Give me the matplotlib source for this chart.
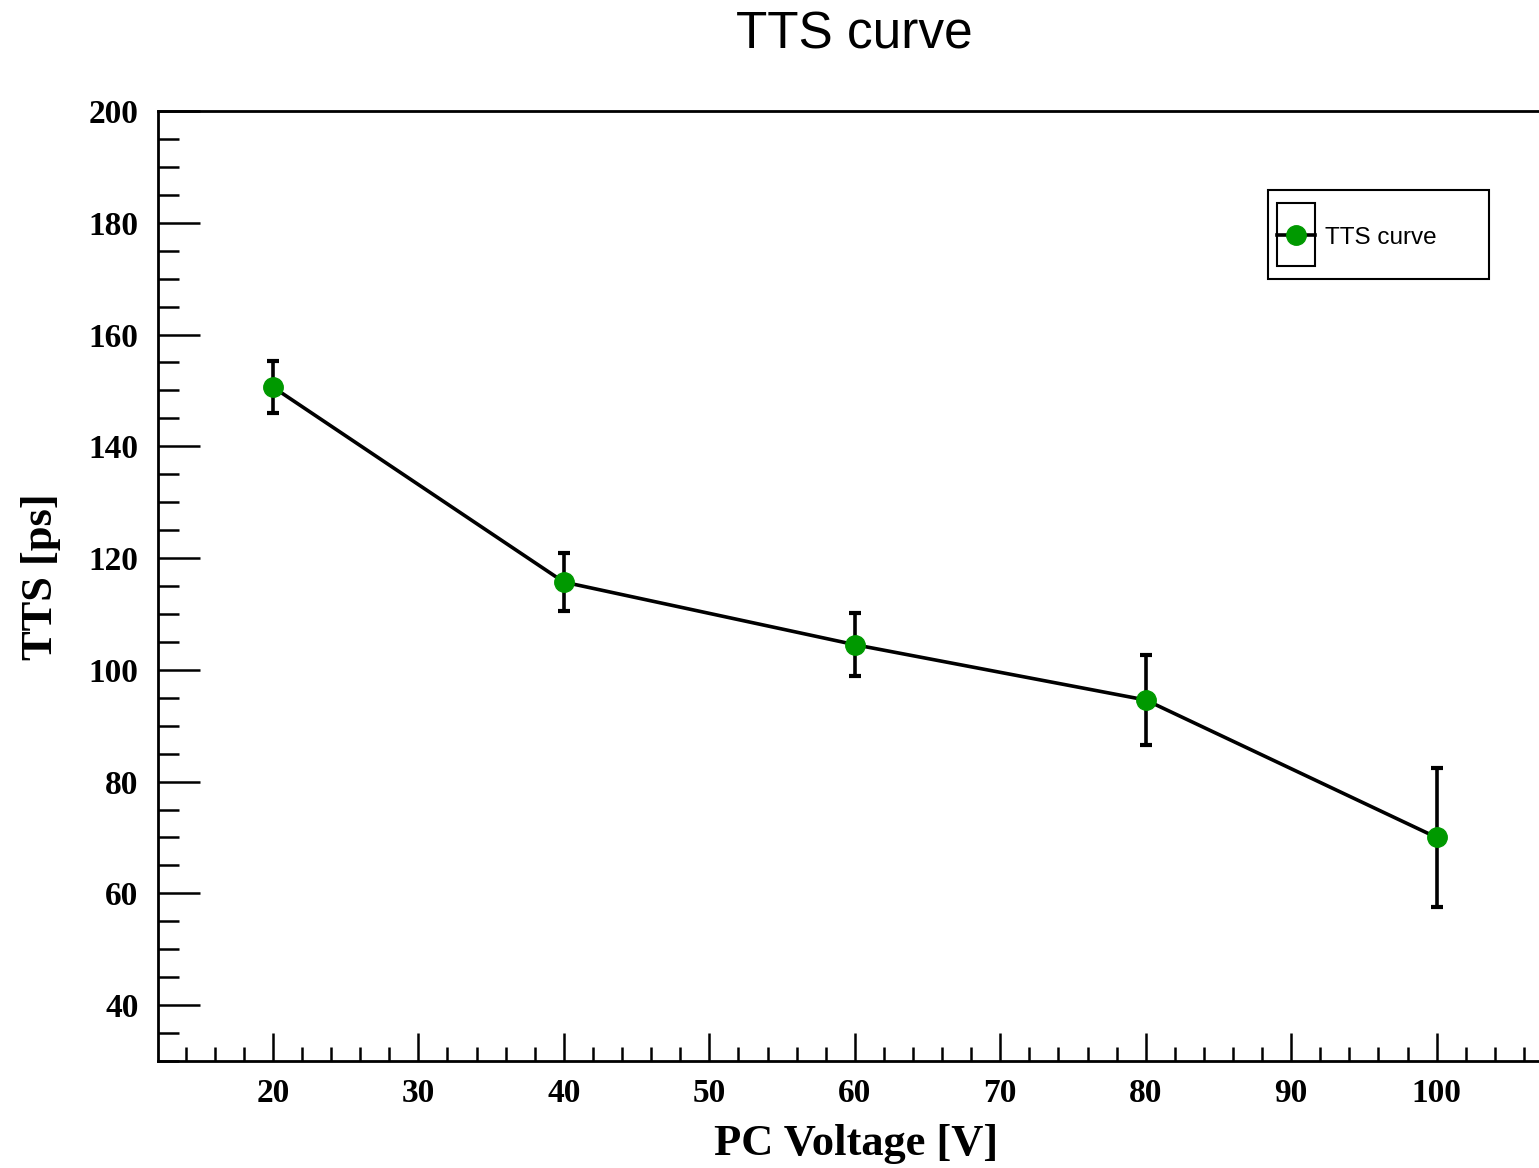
import matplotlib
matplotlib.use("Agg")
import matplotlib.pyplot as plt
from matplotlib.patches import Rectangle
from matplotlib.lines import Line2D
import matplotlib.ticker as ticker

# data
voltage = [20, 40, 60, 80, 100]
tts = [150.6, 115.7, 104.5, 94.6, 70.0]
tts_err = [4.7, 5.15, 5.6, 8.0, 12.5]

green = "#009900"
W, H = 1539, 1168

fig = plt.figure(figsize=(W / 100, H / 100), dpi=100)
ax = fig.add_axes([158 / W, 1 - 1061 / H, (1554.5 - 158) / W, (1061 - 111) / H])

ax.errorbar(voltage, tts, yerr=tts_err, fmt="-o", color="black", lw=2.6,
            elinewidth=2.6, capsize=4, capthick=3,
            marker="o", markersize=14, markerfacecolor=green, markeredgecolor=green)

ax.set_xlim(12.1, 108.1)
ax.set_ylim(30, 200)

ax.xaxis.set_major_locator(ticker.MultipleLocator(10))
ax.xaxis.set_minor_locator(ticker.MultipleLocator(2))
ax.yaxis.set_major_locator(ticker.MultipleLocator(20))
ax.yaxis.set_minor_locator(ticker.MultipleLocator(5))

for s in ax.spines.values():
    s.set_linewidth(2.0)

serif = {"family": "Liberation Serif", "weight": "bold"}
ax.tick_params(axis="x", which="major", direction="in", length=20, width=1.8, pad=12)
ax.tick_params(axis="x", which="minor", direction="in", length=10, width=1.8)
ax.tick_params(axis="y", which="major", direction="in", length=30, width=1.8, pad=14)
ax.tick_params(axis="y", which="minor", direction="in", length=15, width=1.8)
for lab in ax.get_xticklabels() + ax.get_yticklabels():
    lab.set_fontfamily("Liberation Serif")
    lab.set_fontweight("bold")
    lab.set_fontsize(24)

ax.set_xlabel("PC Voltage [V]", fontsize=32, labelpad=11, **serif)
ax.set_ylabel("TTS [ps]", fontsize=32, **serif)
ax.yaxis.set_label_coords(-0.0695, 0.51)

fig.text(854 / W, 1 - 35 / H, "TTS curve", ha="center", va="center",
         fontsize=37, family="Liberation Sans")

# ROOT-style legend box
def fx(x):
    return x / W

def fy(y):
    return 1 - y / H

fig.patches.append(Rectangle((fx(1268), fy(279)), fx(1489) - fx(1268), fy(190) - fy(279),
                             transform=fig.transFigure, fill=False, edgecolor="black", lw=1.5))
fig.patches.append(Rectangle((fx(1277), fy(266)), fx(1315) - fx(1277), fy(203) - fy(266),
                             transform=fig.transFigure, fill=False, edgecolor="black", lw=1.5))
fig.lines.append(Line2D([fx(1277), fx(1315)], [fy(235), fy(235)], transform=fig.transFigure,
                        color="black", lw=2.6))
fig.lines.append(Line2D([fx(1296)], [fy(235)], transform=fig.transFigure, marker="o",
                        markersize=14, color=green, linestyle="none"))
fig.text(fx(1325), fy(238), "TTS curve", ha="left", va="center", fontsize=17.5,
         family="Liberation Sans")

fig.savefig("out.png", dpi=100)
